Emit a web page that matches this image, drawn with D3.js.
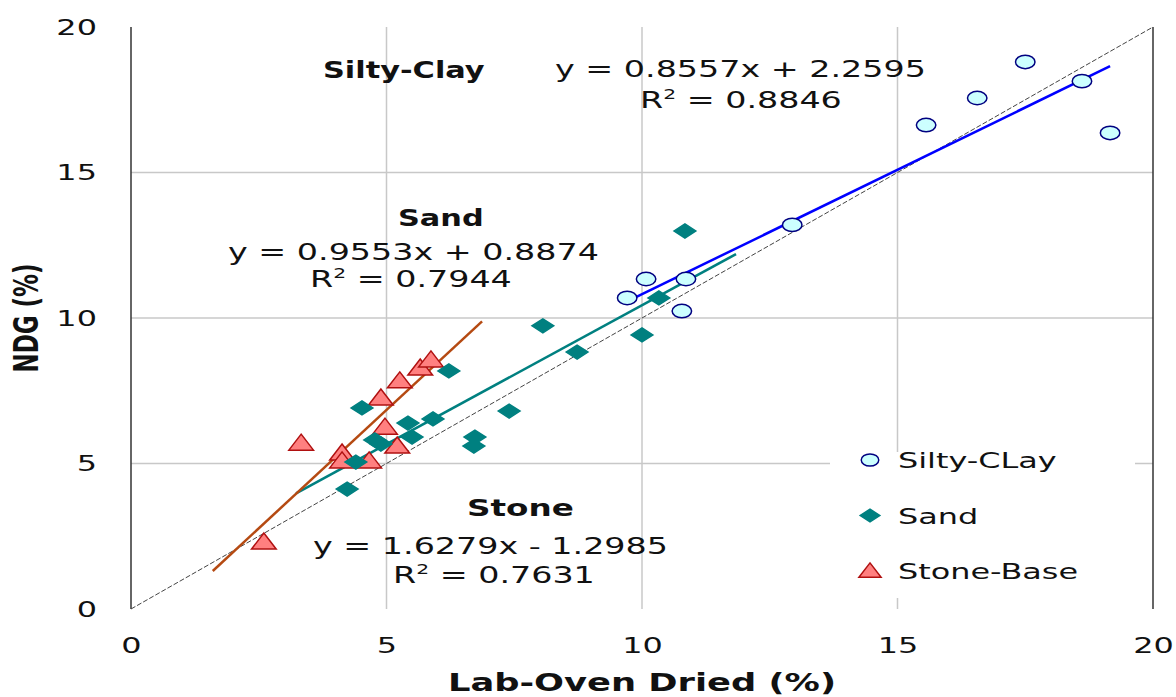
<!DOCTYPE html>
<html>
<head>
<meta charset="utf-8">
<script src="https://cdn.jsdelivr.net/npm/d3@7"></script>
<style>
  body { margin: 0; background: #fff; }
  svg { display: block; font-family: "DejaVu Sans", Verdana, sans-serif; }
</style>
</head>
<body>
<svg id="chart" width="1176" height="697"></svg>
<script>
// values
const seriesNames = ["Silty-CLay", "Sand", "Stone-Base"];
const groupTitles = ["Silty-Clay", "Sand", "Stone"];

const siltyClayX = [9.71, 10.08, 10.86, 10.78, 12.94, 15.56, 16.56, 17.50, 18.61, 19.16];
const siltyClayY = [10.69, 11.34, 11.34, 10.24, 13.20, 16.63, 17.56, 18.80, 18.14, 16.36];

const sandX = [10.84, 10.33, 8.06, 10.00, 8.73, 6.22, 7.40, 5.91, 4.52, 5.42, 5.50, 6.73, 6.71, 4.77, 4.89, 4.40, 4.23];
const sandY = [12.99, 10.69, 9.73, 9.42, 8.83, 8.18, 6.80, 6.53, 6.91, 6.39, 5.91, 5.91, 5.60, 5.81, 5.67, 5.05, 4.12];

const stoneX = [2.60, 3.33, 4.13, 4.13, 4.66, 4.97, 5.21, 4.89, 5.26, 5.66, 5.87];
const stoneY = [2.30, 5.70, 5.36, 5.09, 5.09, 6.25, 5.60, 7.25, 7.84, 8.28, 8.56];

const trendSlopes = [0.8557, 0.9553, 1.6279];
const trendIntercepts = [2.2595, 0.8874, -1.2985];
const trendForecast = [0, 1, 1];      // forward/backward forecast in x units
const rSquared = [0.8846, 0.7944, 0.7631];

const xTicks = [0, 5, 10, 15, 20];
const yTicks = [0, 5, 10, 15, 20];

const margins = { left: 131, right: 23, top: 27, bottom: 88 };
const width = 1176, height = 697;
const sx = 1.45;   // the reference is stretched horizontally

const svg = d3.select("#chart");

const x = d3.scaleLinear().domain([0, 20]).range([margins.left, width - margins.right]);
const y = d3.scaleLinear().domain([0, 20]).range([height - margins.bottom, margins.top]);

const series = [
    { xs: siltyClayX, ys: siltyClayY, marker: "circle", fill: "#ccffff", stroke: "#000080", line: "#0000ff" },
    { xs: sandX, ys: sandY, marker: "diamond", fill: "#008080", stroke: "#008080", line: "#008080" },
    { xs: stoneX, ys: stoneY, marker: "triangle", fill: "#ff8080", stroke: "#b01010", line: "#b54a12" }
];

function markerPath(type) {
    if (type === "circle") return d3.symbol().type(d3.symbolCircle).size(Math.PI * 45)();
    if (type === "diamond") return "M0,-7L7.5,0L0,7L-7.5,0Z";
    return "M0,-9L8.5,7L-8.5,7Z";
}

function addText(parent, str, px, py, size, weight, anchor, stretch) {
    return parent.append("text")
        .attr("transform", `translate(${px},${py}) scale(${stretch || sx},1)`)
        .attr("text-anchor", anchor || "start")
        .attr("font-size", size)
        .attr("font-weight", weight || "normal")
        .attr("fill", "#111")
        .text(str);
}

function addR2(parent, value, px, py) {
    const t = parent.append("text")
        .attr("transform", `translate(${px},${py}) scale(${sx},1)`)
        .attr("font-size", 23)
        .attr("fill", "#111");
    t.append("tspan").text("R");
    t.append("tspan").attr("font-size", 14).attr("dy", -9).text("2");
    t.append("tspan").attr("dy", 9).text(" = " + value.toFixed(4));
}

function equation(i) {
    const b = trendIntercepts[i];
    return `y = ${trendSlopes[i].toFixed(4)}x ${b < 0 ? "-" : "+"} ${Math.abs(b).toFixed(4)}`;
}

// grid
const grid = svg.append("g").attr("stroke", "#c8c8c8").attr("stroke-width", 1.5);
grid.selectAll(".gx").data(xTicks.filter(d => d > 0 && d < 20)).enter().append("line")
    .attr("x1", d => x(d)).attr("x2", d => x(d))
    .attr("y1", y(0)).attr("y2", y(20));
grid.selectAll(".gy").data(yTicks.filter(d => d > 0 && d < 20)).enter().append("line")
    .attr("x1", x(0)).attr("x2", x(20))
    .attr("y1", d => y(d)).attr("y2", d => y(d));

// axis lines
svg.append("line").attr("x1", x(0)).attr("x2", x(0)).attr("y1", y(0)).attr("y2", y(20))
    .attr("stroke", "#333").attr("stroke-width", 1.5);
svg.append("line").attr("x1", x(20)).attr("x2", x(20)).attr("y1", y(0)).attr("y2", y(20))
    .attr("stroke", "#333").attr("stroke-width", 1.5);

// tick labels through d3 axes
const yAxis = svg.append("g")
    .attr("transform", `translate(${x(0)},0)`)
    .call(d3.axisLeft(y).tickValues(yTicks).tickSize(0).tickPadding(23.5));
const xAxis = svg.append("g")
    .attr("transform", `translate(0,${y(0)})`)
    .call(d3.axisBottom(x).tickValues(xTicks).tickSize(0).tickPadding(28));
[xAxis, yAxis].forEach(ax => {
    ax.select(".domain").remove();
    ax.selectAll("text")
        .attr("font-size", 22)
        .attr("font-family", "DejaVu Sans, sans-serif")
        .attr("fill", "#111")
        .attr("transform", `scale(${sx},1)`);
});

// 1:1 line
svg.append("line")
    .attr("x1", x(0)).attr("y1", y(0)).attr("x2", x(20)).attr("y2", y(20))
    .attr("stroke", "#444").attr("stroke-width", 1).attr("stroke-dasharray", "5,2");

// trendlines
series.forEach((s, i) => {
    const lo = d3.min(s.xs) - trendForecast[i];
    const hi = d3.max(s.xs) + trendForecast[i];
    svg.append("line")
        .attr("x1", x(lo)).attr("y1", y(trendSlopes[i] * lo + trendIntercepts[i]))
        .attr("x2", x(hi)).attr("y2", y(trendSlopes[i] * hi + trendIntercepts[i]))
        .attr("stroke", s.line).attr("stroke-width", 2.5);
});

// points, drawn stone first so sand/clay sit on top like the reference
[2, 1, 0].forEach(i => {
    const s = series[i];
    const pts = s.xs.map((v, k) => [v, s.ys[k]]);
    svg.append("g").selectAll("path").data(pts).enter().append("path")
        .attr("d", markerPath(s.marker))
        .attr("transform", d => `translate(${x(d[0])},${y(d[1])}) scale(${sx},1)`)
        .attr("fill", s.fill)
        .attr("stroke", s.stroke)
        .attr("stroke-width", 1.5)
        .attr("vector-effect", "non-scaling-stroke");
});

// annotations
const notes = svg.append("g");
addText(notes, groupTitles[0], 323, 78, 22.5, "bold", "start", 1.35);
addText(notes, equation(0), 555, 77, 23);
addR2(notes, rSquared[0], 640, 108);

addText(notes, groupTitles[1], 398, 226, 22.5, "bold", "start", 1.35);
addText(notes, equation(1), 228, 260, 23);
addR2(notes, rSquared[1], 310, 287);

addText(notes, groupTitles[2], 467, 516, 22.5, "bold", "start", 1.45);
addText(notes, equation(2), 313, 554, 23);
addR2(notes, rSquared[2], 393, 583);

// legend
const legend = svg.append("g");
legend.append("rect").attr("x", 830).attr("y", 452).attr("width", 305).attr("height", 146).attr("fill", "#fff");
seriesNames.forEach((name, i) => {
    const s = series[i];
    const cy = 460 + i * 55.5;
    legend.append("path")
        .attr("d", markerPath(s.marker))
        .attr("transform", `translate(870,${cy}) scale(${sx * 0.9},0.9)`)
        .attr("fill", s.fill).attr("stroke", s.stroke).attr("stroke-width", 1.5)
        .attr("vector-effect", "non-scaling-stroke");
    addText(legend, name, 898, cy + 8, 22);
});

// axis titles
addText(svg, "Lab-Oven Dried (%)", (x(0) + x(20)) / 2, 691, 24, "bold", "middle", 1.47);
svg.append("text")
    .attr("transform", `translate(38,${y(10)}) scale(${sx},1) rotate(-90)`)
    .attr("text-anchor", "middle")
    .attr("font-size", 23)
    .attr("font-weight", "bold")
    .attr("fill", "#111")
    .text("NDG (%)");
</script>
</body>
</html>
